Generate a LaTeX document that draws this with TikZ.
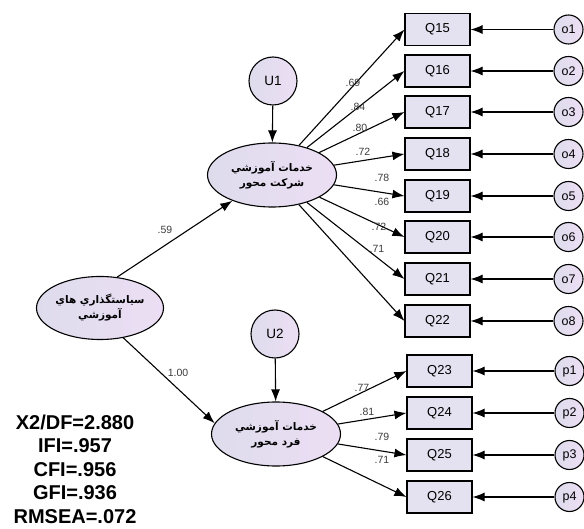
\documentclass[tikz,border=0pt]{standalone}
\usepackage{fontspec}
\setmainfont{Liberation Sans}
\newfontfamily\arabicfont[Script=Arabic]{DejaVu Sans}
\TeXXeTstate=1
\usetikzlibrary{arrows.meta,shapes.geometric}
\definecolor{lavA}{RGB}{222,220,236}
\definecolor{lavB}{RGB}{236,222,244}
\definecolor{boxfill}{RGB}{228,225,240}
\definecolor{lblcol}{RGB}{60,60,60}
\tikzset{
  obsbox/.style={draw, line width=1.1pt, fill=boxfill, minimum width=65pt, minimum height=32pt, inner sep=0pt, font=\fontsize{13}{13}\selectfont},
  errc/.style={circle, draw, line width=1.1pt, left color=lavA, right color=lavB, minimum size=29pt, inner sep=0pt, font=\fontsize{12.5}{12.5}\selectfont},
  distc/.style={circle, draw, line width=1.1pt, left color=lavA, right color=lavB, minimum size=48pt, inner sep=0pt, font=\fontsize{13.5}{13.5}\selectfont},
  latent/.style={ellipse, draw, line width=1.1pt, left color=lavA, right color=lavB, minimum width=129pt, minimum height=64pt, inner sep=0pt, align=center, font=\arabicfont\bfseries\fontsize{10.5}{15}\selectfont},
  arr/.style={-{Latex[length=12pt,width=9pt]}, line width=1.1pt},
  lbl/.style={font=\fontsize{10.5}{11}\selectfont, text=lblcol, inner sep=0pt},
  fit/.style={align=center, font=\bfseries\fontsize{20}{23.5}\selectfont, inner sep=0pt}
}
\begin{document}
\begin{tikzpicture}[x=1pt,y=-1pt]
\path[use as bounding box, fill=white] (0,0) rectangle (584,529);

% observed boxes
\foreach \n/\yy in {15/29.5,16/71,17/112,18/154,19/196,20/237,21/279,22/321}{
  \node[obsbox] (Q\n) at (437.5,\yy) {Q\n};
}
\foreach \n/\yy in {23/371,24/413,25/455,26/497}{
  \node[obsbox] (Q\n) at (439.5,\yy) {Q\n};
}
% error circles
\foreach \i/\n/\yy in {1/15/29.5,2/16/71,3/17/112,4/18/154,5/19/196,6/20/237,7/21/279,8/22/321}{
  \node[errc] (o\i) at (568.5,\yy) {o\i};
  \draw[arr] (o\i) -- (Q\n.east);
}
\foreach \i/\n/\yy in {1/23/371,2/24/413,3/25/455,4/26/497}{
  \node[errc] (p\i) at (569.5,\yy) {p\i};
  \draw[arr] (p\i) -- (Q\n.east);
}

% latent variables
\node[latent] (E1) at (272,175) {\beginR خدمات آموزشي\endR\\\beginR شرکت محور\endR};
\node[latent] (E2) at (276,434) {\beginR خدمات آموزشي\endR\\\beginR فرد محور\endR};
\node[latent, minimum width=127pt, minimum height=63pt] (E0) at (100,308) {\beginR سياستگذاري هاي\endR\\\beginR آموزشي\endR};

% disturbances
\node[distc] (U1) at (273,81) {U1};
\node[distc] (U2) at (275,334) {U2};
\draw[arr] (U1) -- (E1);
\draw[arr] (U2) -- (E2);

% structural paths
\draw[arr] (E0.61) -- (E1.213);
\draw[arr] (E0.-52) -- (E2.170);
\node[lbl] (l59) at (165,230) {.59};
\node[lbl] (l100) at (178,373) {1.00};

% loadings
\foreach \n in {15,...,22}{ \draw[arr] (E1) -- (Q\n.west); }
\foreach \n in {23,...,26}{ \draw[arr] (E2) -- (Q\n.west); }

\node[lbl] (a1) at (353,83) {.69};
\node[lbl] (a2) at (358,107) {.84};
\node[lbl] (a3) at (360,128) {.80};
\node[lbl] (a4) at (363,152) {.72};
\node[lbl] (a5) at (382,178) {.78};
\node[lbl] (a6) at (382,202) {.66};
\node[lbl] (a7) at (379,227) {.72};
\node[lbl] (a8) at (377,249) {.71};

\node[lbl] (b1) at (362,388) {.77};
\node[lbl] (b2) at (367,412) {.81};
\node[lbl] (b3) at (382,437) {.79};
\node[lbl] (b4) at (382,460) {.71};

% fit indices
\node[fit] (fitidx) at (75,469) {X2/DF=2.880\\IFI=.957\\CFI=.956\\GFI=.936\\RMSEA=.072};
\end{tikzpicture}
\end{document}
